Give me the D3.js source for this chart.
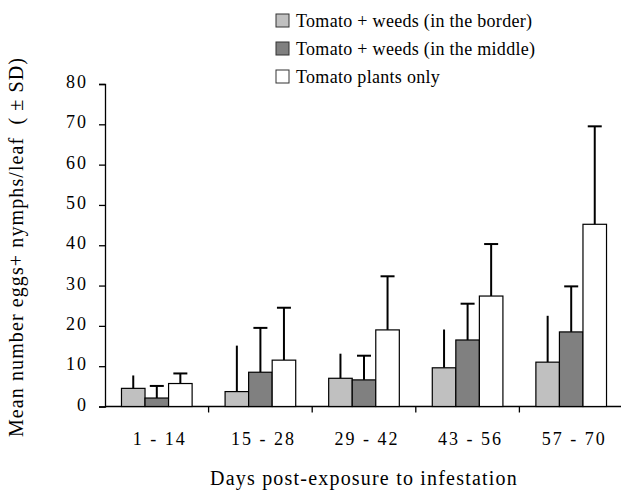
<!DOCTYPE html>
<html>
<head>
<meta charset="utf-8">
<script src="https://cdn.jsdelivr.net/npm/d3@7"></script>
<style>
  body { margin: 0; background: #fff; }
  text { font-family: "Liberation Serif", "Times New Roman", serif; fill: #000; }
</style>
</head>
<body>
<div id="container"></div>
<script>
const periods = ['1 - 14', '15 - 28', '29 - 42', '43 - 56', '57 - 70']
const seriesNames = ['Tomato + weeds (in the border)', 'Tomato + weeds (in the middle)', 'Tomato plants only']
const borderMean = [4.5, 3.7, 7.0, 9.6, 11.0]
const borderSD = [3.2, 11.4, 6.1, 9.5, 11.5]
const middleMean = [2.1, 8.5, 6.6, 16.5, 18.5]
const middleSD = [3.0, 11.0, 6.0, 9.0, 11.3]
const onlyMean = [5.7, 11.5, 19.0, 27.4, 45.2]
const onlySD = [2.5, 13.0, 13.3, 12.9, 24.3]
const yTicks = [0, 10, 20, 30, 40, 50, 60, 70, 80]

const fills = ['#c0c0c0', '#808080', '#ffffff']
const hasCap = [false, true, true]
const serif = '"Liberation Serif", "Times New Roman", serif'

const width = 621, height = 493
const margin = { top: 84, right: -2, bottom: 86.5, left: 105 }

const series = [
  { name: seriesNames[0], mean: borderMean, sd: borderSD },
  { name: seriesNames[1], mean: middleMean, sd: middleSD },
  { name: seriesNames[2], mean: onlyMean, sd: onlySD }
]

const svg = d3.select('#container')
  .append('svg')
  .attr('width', width)
  .attr('height', height)

const x = d3.scaleBand()
  .domain(periods)
  .range([margin.left, width - margin.right])
  .padding(0)

const x1 = d3.scaleBand()
  .domain(d3.range(series.length))
  .range([0, x.bandwidth()])
  .paddingInner(0)
  .paddingOuter(0.7)

const y = d3.scaleLinear()
  .domain([0, 80])
  .range([height - margin.bottom, margin.top])

// y axis
const yAxis = svg.append('g')
  .attr('transform', `translate(${margin.left},0)`)
  .call(d3.axisLeft(y).tickValues(yTicks).tickSize(6).tickPadding(11))
  .attr('font-family', serif)
yAxis.select('.domain').attr('stroke', '#000').attr('stroke-width', 1.3)
yAxis.selectAll('.tick line').attr('stroke', '#000').attr('stroke-width', 1.3)
yAxis.selectAll('.tick text')
  .attr('font-size', 18)
  .attr('letter-spacing', 2)
  .attr('dy', '0.2em')

// x axis line + boundary ticks
const gx = svg.append('g')
svg.append('line')
  .attr('x1', margin.left).attr('x2', width)
  .attr('y1', y(0)).attr('y2', y(0))
  .attr('stroke', '#000').attr('stroke-width', 1.3)

gx.selectAll('.bound')
  .data(periods.slice(1))
  .enter().append('line')
  .attr('x1', d => x(d)).attr('x2', d => x(d))
  .attr('y1', y(0)).attr('y2', y(0) + 6)
  .attr('stroke', '#000').attr('stroke-width', 1.3)

gx.selectAll('.lbl')
  .data(periods)
  .enter().append('text')
  .attr('x', d => x(d) + x.bandwidth() / 2 + 3)
  .attr('y', 445)
  .attr('text-anchor', 'middle')
  .attr('font-size', 18)
  .attr('letter-spacing', 2)
  .text(d => d)

// bars
const groups = svg.append('g').selectAll('g')
  .data(periods)
  .enter().append('g')
  .attr('transform', d => `translate(${x(d)},0)`)

series.forEach((s, si) => {
  // error bars first, bar drawn on top
  groups.append('line')
    .attr('x1', (d, i) => x1(si) + x1.bandwidth() / 2)
    .attr('x2', (d, i) => x1(si) + x1.bandwidth() / 2)
    .attr('y1', (d, i) => y(s.mean[i]))
    .attr('y2', (d, i) => y(s.mean[i] + s.sd[i]))
    .attr('stroke', '#000').attr('stroke-width', 2)
  if (hasCap[si]) {
    groups.append('line')
      .attr('x1', (d, i) => x1(si) + x1.bandwidth() / 2 - 7)
      .attr('x2', (d, i) => x1(si) + x1.bandwidth() / 2 + 7)
      .attr('y1', (d, i) => y(s.mean[i] + s.sd[i]))
      .attr('y2', (d, i) => y(s.mean[i] + s.sd[i]))
      .attr('stroke', '#000').attr('stroke-width', 2)
  }
  groups.append('rect')
    .attr('x', (d, i) => x1(si))
    .attr('y', (d, i) => y(s.mean[i]))
    .attr('width', x1.bandwidth())
    .attr('height', (d, i) => y(0) - y(s.mean[i]))
    .attr('fill', fills[si])
    .attr('stroke', '#000')
    .attr('stroke-width', 1.2)
})

// legend
const legend = svg.append('g').attr('transform', 'translate(276,0)')
const rowY = [20.5, 48.5, 76.5]
seriesNames.forEach((name, i) => {
  legend.append('rect')
    .attr('x', 0).attr('y', rowY[i] - 6.5)
    .attr('width', 13).attr('height', 13)
    .attr('fill', fills[i])
    .attr('stroke', '#333').attr('stroke-width', 1)
  legend.append('text')
    .attr('x', 20).attr('y', rowY[i] + 6)
    .attr('font-size', 18)
    .attr('letter-spacing', 0.3)
    .text(name)
})

// axis titles
svg.append('text')
  .attr('x', (margin.left + width) / 2 + 1)
  .attr('y', 485)
  .attr('text-anchor', 'middle')
  .attr('font-size', 20)
  .attr('letter-spacing', 1.2)
  .text('Days post-exposure to infestation')

svg.append('text')
  .attr('transform', 'translate(23,247) rotate(-90)')
  .attr('text-anchor', 'middle')
  .attr('font-size', 20)
  .attr('letter-spacing', 1.1)
  .style('white-space', 'pre')
  .text('Mean number eggs+ nymphs/leaf  ( \u00b1 SD)')
</script>
</body>
</html>
